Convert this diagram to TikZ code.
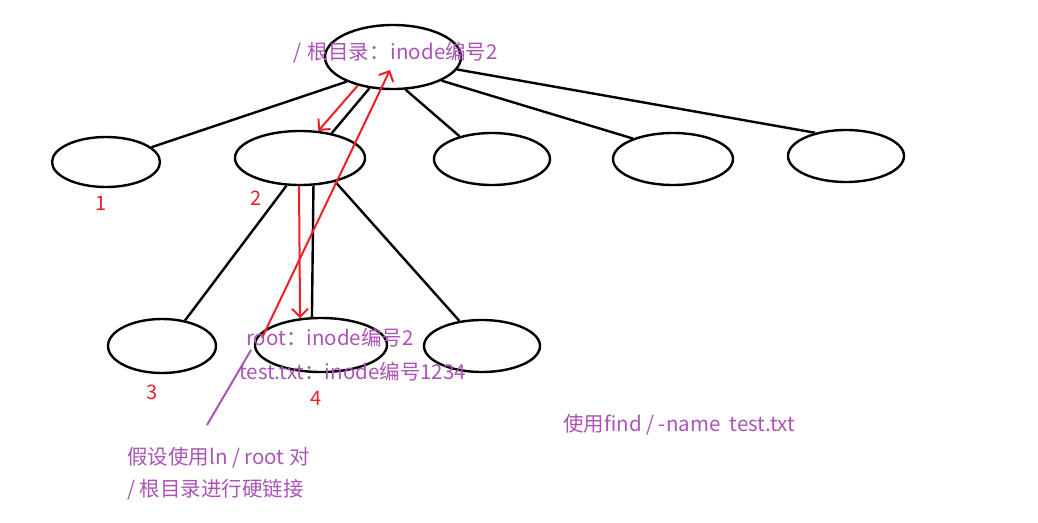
\documentclass[tikz,border=0pt]{standalone}
\usepackage{fontspec}
\setmainfont{Noto Sans CJK SC}
\usetikzlibrary{shapes.geometric,arrows.meta}
\definecolor{notepurple}{RGB}{170,84,182}
\definecolor{notered}{RGB}{236,32,40}

\tikzset{
	dirnode/.style={draw, ellipse, line width=2.4pt, inner sep=0pt},
	treeline/.style={line width=2.4pt},
	linkarrow/.style={draw=notered, line width=2pt, -{Straight Barb[length=8pt,width=16pt]}},
	note/.style={text=notepurple, font=\fontsize{20.5}{24}\selectfont, inner sep=0pt},
	num/.style={text=notered, font=\fontsize{20}{24}\selectfont, inner sep=0pt}
}

\begin{document}
\begin{tikzpicture}[x=1pt,y=-1pt]
		\useasboundingbox (0,0) rectangle (1038,522);

		% root directory and its children
		\node[dirnode, minimum width=136, minimum height=64] (root) at (393,57) {};
		\node[dirnode, minimum width=108, minimum height=50] (d1) at (106,162) {};
		\node[dirnode, minimum width=130, minimum height=54] (d2) at (300,158) {};
		\node[dirnode, minimum width=116, minimum height=52] (d3) at (492,159) {};
		\node[dirnode, minimum width=120, minimum height=52] (d4) at (673,159) {};
		\node[dirnode, minimum width=116, minimum height=52] (d5) at (846,156) {};

		% children of 2
		\node[dirnode, minimum width=108, minimum height=54] (c3) at (162,346) {};
		\node[dirnode, minimum width=132, minimum height=54] (c4) at (321,345) {};
		\node[dirnode, minimum width=116, minimum height=52] (c5) at (482,346) {};

		\draw[treeline] (root.208) -- (d1.18);
		\draw[treeline] (root.233) -- (d2.38);
		\draw[treeline] (root.291) -- (d3.145);
		\draw[treeline] (root.334) -- (d4.153);
		\draw[treeline] (root.349) -- (d5.143);

		\draw[treeline] (d2.244) -- (c3.48);
		\draw[treeline] (d2.296) -- (c4.108);
		\draw[treeline] (d2.326) -- (c5.132);

		% hard link path
		\coordinate (lnstart) at (262,338);
		\coordinate (lnend) at (390,70);
		\draw[linkarrow] (root.219) -- (d2.56);
		\draw[linkarrow] (d2.268) -- (c4.128);
		\draw[linkarrow] (lnstart) -- (lnend);

		\coordinate (pstart) at (251,350);
		\coordinate (pend) at (207,425);
		\draw[draw=notepurple, line width=2pt] (pstart) -- (pend);

		\node[num] (n1) at (101,203) {1};
		\node[num] (n2) at (256,198) {2};
		\node[num] (n3) at (152,392) {3};
		\node[num] (n4) at (316,398) {4};

		\node[note, anchor=west] (rootlabel) at (293,53) {/\hspace{2pt} 根目录：\hspace{1pt}inode编号2};
		\node[note, anchor=west] (rootentry) at (246,338) {root：inode编号2};
		\node[note, anchor=west] (testentry) at (239,372) {test.txt：inode编号1234};
		\node[note, anchor=west] (lnnote1) at (127,458) {假设使用ln / root 对};
		\node[note, anchor=west] (lnnote2) at (127,490) {/ 根目录进行硬链接};
		\node[note, anchor=west] (findnote) at (563,425) {使用find / -name\ \ test.txt};

	\end{tikzpicture}
\end{document}
